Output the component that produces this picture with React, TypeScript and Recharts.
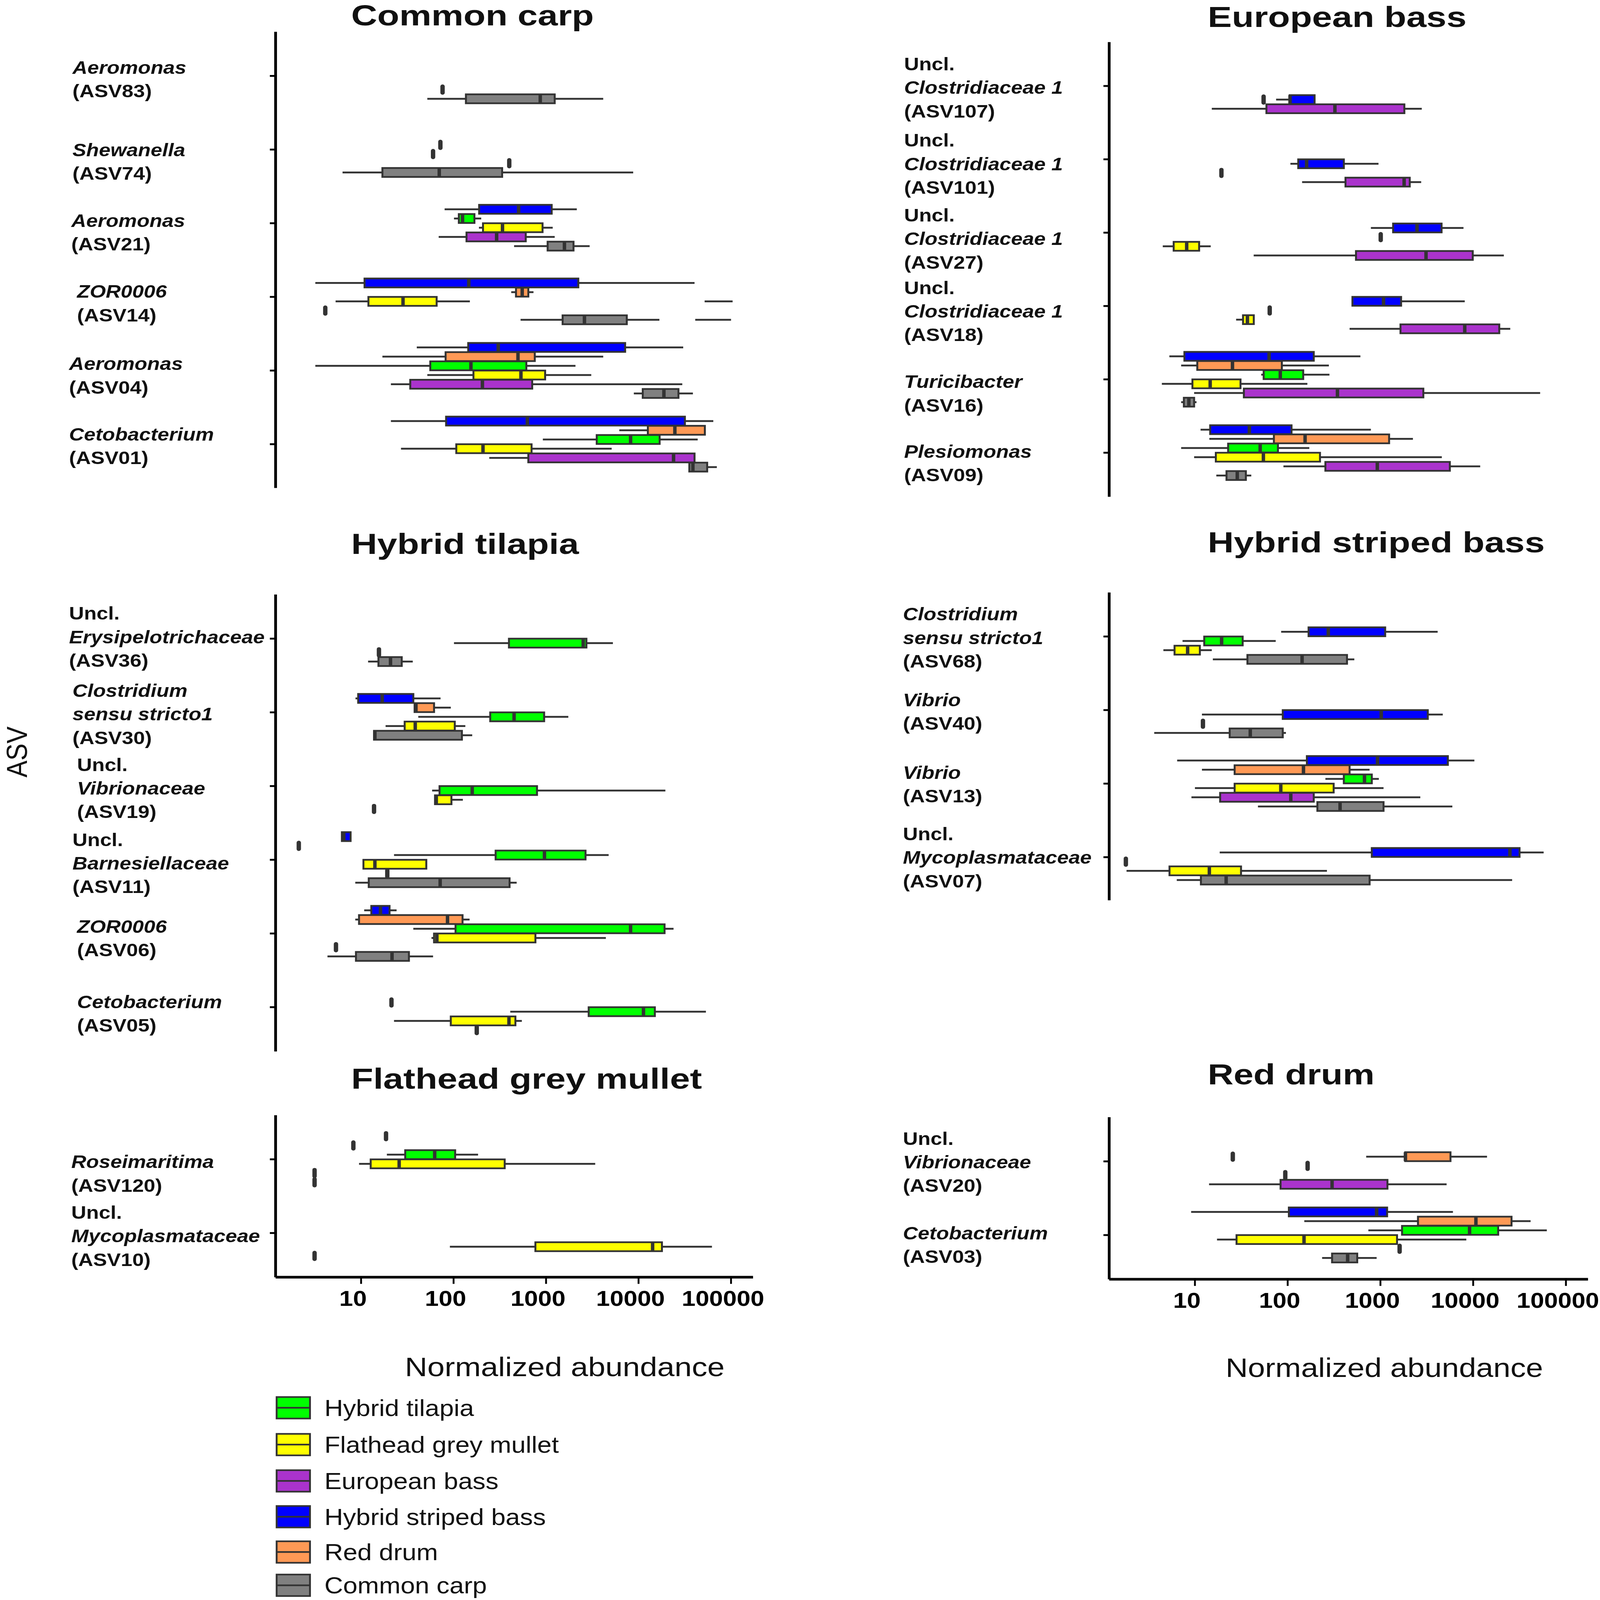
import React from 'react';
import { ComposedChart, Bar, XAxis, YAxis } from 'recharts';

const PAGE_W = 1391;
const PAGE_H = PAGE_W * 5129 / 4562;
const FONT = '"Liberation Sans", Arial, Helvetica, sans-serif';
const INK = '#333333';

const X_MIN = 1.19;
const X_MAX = 173000;
const X_TICKS = [10, 100, 1000, 10000, 100000];

const GROUP_KEYS = ['T', 'M', 'E', 'S', 'R', 'C'];
const GROUP_NAMES = ['Hybrid tilapia', 'Flathead grey mullet', 'European bass', 'Hybrid striped bass', 'Red drum', 'Common carp'];
const GROUP_FILLS = ['#00ff00', '#ffff00', '#aa33cc', '#0000ff', '#ff9955', '#808080'];

// [asv index, dodge slot, group, whisker low, q1, median, q3, whisker high]
type Box = [number, number, string, number, number, number, number, number];
// [asv index, dodge slot, value]
type Outlier = [number, number, number];
// [asv index, dodge slot, low, high]  (whisker without box)
type Extra = [number, number, number, number];

// ---- Common carp
const CARP_ASV = ['ASV83', 'ASV74', 'ASV21', 'ASV14', 'ASV04', 'ASV01'];
const CARP_LABELS = [['Aeromonas', '(ASV83)'], ['Shewanella', '(ASV74)'], ['Aeromonas', '(ASV21)'], ['ZOR0006', '(ASV14)'], ['Aeromonas', '(ASV04)'], ['Cetobacterium', '(ASV01)']];
const CARP_BOXES: Box[] = [
  [0, 5, 'C', 52, 136, 865, 1240, 4150],
  [1, 5, 'C', 6.3, 17, 70, 335, 8750],
  [2, 1, 'S', 80, 189, 505, 1150, 2150],
  [2, 2, 'T', 101, 114, 125, 168, 199],
  [2, 3, 'M', 188, 208, 338, 916, 1180],
  [2, 4, 'E', 69, 138, 292, 603, 1240],
  [2, 5, 'C', 451, 1040, 1580, 1980, 2960],
  [3, 1, 'S', 3.2, 10.9, 146, 2230, 40300],
  [3, 2, 'R', 420, 473, 552, 643, 731],
  [3, 3, 'M', 5.3, 12, 28.4, 65.6, 150],
  [3, 5, 'C', 530, 1510, 2600, 7460, 16800],
  [4, 0, 'S', 40, 144, 304, 7160, 30400],
  [4, 1, 'R', 17, 82, 497, 755, 4150],
  [4, 2, 'T', 3.2, 56, 154, 612, 2080],
  [4, 3, 'M', 52, 164, 535, 977, 3080],
  [4, 4, 'E', 21, 34, 205, 708, 29700],
  [4, 5, 'C', 8890, 11100, 18800, 27000, 38700],
  [5, 0, 'S', 21, 83, 628, 31700, 64300],
  [5, 1, 'R', 6190, 12600, 24700, 52100, 52100],
  [5, 2, 'T', 923, 3530, 8200, 16900, 43600],
  [5, 3, 'M', 27, 107, 208, 697, 5120],
  [5, 4, 'E', 243, 643, 23900, 40300, 40300],
  [5, 5, 'C', 34900, 35400, 38700, 55200, 70200],
];
const CARP_OUT: Outlier[] = [[0, 4, 76], [1, 2, 72], [1, 3, 60], [1, 4, 400], [3, 4, 4.1]];
const CARP_EXTRA: Extra[] = [[3, 3, 51800, 104000], [3, 5, 41000, 100000]];

// ---- European bass
const SEABASS_ASV = ['ASV107', 'ASV101', 'ASV27', 'ASV18', 'ASV16', 'ASV09'];
const SEABASS_LABELS = [
  ['Uncl.', 'Clostridiaceae 1', '(ASV107)'],
  ['Uncl.', 'Clostridiaceae 1', '(ASV101)'],
  ['Uncl.', 'Clostridiaceae 1', '(ASV27)'],
  ['Uncl.', 'Clostridiaceae 1', '(ASV18)'],
  ['Turicibacter', '(ASV16)'],
  ['Plesiomonas', '(ASV09)'],
];
const SEABASS_BOXES: Box[] = [
  [0, 4, 'S', 75, 105, 106, 195, 195],
  [0, 5, 'E', 15.2, 59, 323, 1810, 2790],
  [1, 3, 'S', 107, 130, 160, 403, 953],
  [1, 5, 'E', 143, 420, 1800, 2070, 2750],
  [2, 2, 'S', 789, 1370, 2480, 4560, 7860],
  [2, 4, 'M', 4.5, 5.9, 8.15, 11.1, 14.8],
  [2, 5, 'E', 43, 545, 3100, 9890, 21400],
  [3, 2, 'S', 499, 499, 1080, 1670, 8110],
  [3, 4, 'M', 27.8, 33, 36.8, 43.1, 43.1],
  [3, 5, 'E', 465, 1645, 8110, 19100, 25100],
  [4, 0, 'S', 5.3, 7.7, 63, 191, 608],
  [4, 1, 'R', 7.1, 10.6, 25.4, 86.5, 278],
  [4, 2, 'T', 51.8, 55.1, 83.2, 147, 282],
  [4, 3, 'M', 4.4, 9.4, 14.6, 31, 163],
  [4, 4, 'E', 9.8, 33.7, 344, 2900, 52700],
  [4, 5, 'C', 7.1, 7.6, 8.6, 9.8, 10.4],
  [5, 0, 'S', 11.5, 14.6, 38.6, 110, 789],
  [5, 1, 'R', 14.3, 71, 154, 1240, 2240],
  [5, 2, 'T', 7.1, 22.8, 50.5, 78.5, 171],
  [5, 3, 'M', 9.8, 16.8, 54.7, 223, 4590],
  [5, 4, 'E', 90, 255, 925, 5600, 11900],
  [5, 5, 'C', 17, 21.9, 28.6, 35.4, 40.5],
];
const SEABASS_OUT: Outlier[] = [[0, 4, 55], [1, 4, 19.3], [2, 3, 1007], [3, 3, 64]];

// ---- Hybrid tilapia
const TILAPIA_ASV = ['ASV36', 'ASV30', 'ASV19', 'ASV11', 'ASV06', 'ASV05'];
const TILAPIA_LABELS = [
  ['Uncl.', 'Erysipelotrichaceae', '(ASV36)'],
  ['Clostridium', 'sensu stricto1', '(ASV30)'],
  ['Uncl.', 'Vibrionaceae', '(ASV19)'],
  ['Uncl.', 'Barnesiellaceae', '(ASV11)'],
  ['ZOR0006', '(ASV06)'],
  ['Cetobacterium', '(ASV05)'],
];
const TILAPIA_BOXES: Box[] = [
  [0, 3, 'T', 101, 397, 2520, 2730, 5280],
  [0, 5, 'C', 11.9, 15.4, 20.8, 27.5, 36.2],
  [1, 1, 'S', 8.7, 9.3, 16.9, 36.7, 72.3],
  [1, 2, 'R', 37.9, 37.9, 39.2, 61.5, 93.3],
  [1, 3, 'T', 41.5, 249, 451, 953, 1740],
  [1, 4, 'M', 18.4, 29.6, 38.5, 103, 134],
  [1, 5, 'C', 13.8, 13.8, 14.1, 123, 159],
  [2, 3, 'T', 58.6, 70.5, 159, 798, 19500],
  [2, 4, 'M', 63, 63, 65, 94.8, 126],
  [3, 0, 'S', 6.1, 6.2, 6.5, 7.7, 7.7],
  [3, 2, 'T', 22.7, 285, 961, 2670, 4750],
  [3, 3, 'M', 10.6, 10.6, 14.1, 50.7, 50.7],
  [3, 5, 'C', 8.65, 12.1, 71.6, 403, 481],
  [4, 0, 'S', 10.8, 12.9, 16.2, 20.3, 24.2],
  [4, 1, 'R', 8.65, 9.5, 86, 125, 149],
  [4, 2, 'T', 36.7, 105, 8200, 19100, 23900],
  [4, 3, 'M', 57.7, 61.5, 66, 767, 4430],
  [4, 5, 'C', 4.33, 8.8, 21.6, 32.9, 60],
  [5, 3, 'T', 410, 2890, 11300, 15000, 53500],
  [5, 4, 'M', 22.7, 93.3, 397, 466, 547],
];
const TILAPIA_OUT: Outlier[] = [[0, 4, 15.6], [2, 5, 13.8], [3, 1, 2.12], [3, 4, 19.2], [4, 4, 5.35], [5, 2, 21.3], [5, 5, 178]];

// ---- Hybrid striped bass
const STRIPED_ASV = ['ASV68', 'ASV40', 'ASV13', 'ASV07'];
const STRIPED_LABELS = [
  ['Clostridium', 'sensu stricto1', '(ASV68)'],
  ['Vibrio', '(ASV40)'],
  ['Vibrio', '(ASV13)'],
  ['Uncl.', 'Mycoplasmataceae', '(ASV07)'],
];
const STRIPED_BOXES: Box[] = [
  [0, 2, 'S', 85, 168, 274, 1125, 4140],
  [0, 3, 'T', 7.35, 12.6, 19.4, 32.7, 74.3],
  [0, 4, 'M', 4.57, 6.03, 8.34, 11.3, 15.2],
  [0, 5, 'C', 15.6, 36.8, 143, 436, 523],
  [1, 3, 'S', 11.9, 88.5, 1020, 3240, 4700],
  [1, 5, 'C', 3.64, 23.7, 39.5, 88.5, 95.7],
  [2, 0, 'S', 6.43, 161, 931, 5330, 10300],
  [2, 1, 'R', 11.9, 26.8, 148, 465, 764],
  [2, 2, 'T', 255, 403, 673, 807, 961],
  [2, 3, 'M', 10, 26.8, 84.3, 313, 1080],
  [2, 4, 'E', 9.17, 18.7, 108, 191, 2690],
  [2, 5, 'C', 47.8, 209, 367, 1080, 5960],
  [3, 2, 'S', 18.5, 807, 24900, 31600, 57500],
  [3, 4, 'M', 1.83, 5.32, 14.3, 31.4, 265],
  [3, 5, 'C', 6.37, 11.6, 21.7, 764, 26300],
];
const STRIPED_OUT: Outlier[] = [[1, 4, 12.2], [3, 3, 1.8]];

// ---- Flathead grey mullet
const MULLET_ASV = ['ASV120', 'ASV10'];
const MULLET_LABELS = [['Roseimaritima', '(ASV120)'], ['Uncl.', 'Mycoplasmataceae', '(ASV10)']];
const MULLET_BOXES: Box[] = [
  [0, 2, 'T', 19, 30, 62.5, 104, 184],
  [0, 3, 'M', 9.5, 12.7, 25.8, 357, 3400],
  [1, 4, 'M', 91.2, 767, 14200, 17900, 62200],
];
const MULLET_OUT: Outlier[] = [[0, 0, 18.6], [0, 1, 8.25], [0, 4, 3.14], [0, 5, 3.14], [1, 5, 3.14]];

// ---- Red drum
const DRUM_ASV = ['ASV20', 'ASV03'];
const DRUM_LABELS = [['Uncl.', 'Vibrionaceae', '(ASV20)'], ['Cetobacterium', '(ASV03)']];
const DRUM_BOXES: Box[] = [
  [0, 2, 'R', 702, 1850, 1860, 5690, 14100],
  [0, 5, 'E', 14.2, 83.8, 301, 1190, 5170],
  [1, 0, 'S', 9.1, 103, 910, 1180, 6050],
  [1, 1, 'R', 151, 2540, 10700, 25900, 41600],
  [1, 2, 'T', 741, 1710, 9140, 18600, 62200],
  [1, 3, 'M', 17.3, 28.1, 150, 1510, 8430],
  [1, 5, 'C', 235, 301, 443, 562, 910],
];
const DRUM_OUT: Outlier[] = [[0, 2, 25.6], [0, 3, 164], [0, 4, 94.2], [1, 4, 1610]];

// ---- layout (in 1391-wide design units)
const RIGHT_ROOM = 40;
const COLS = [
  { left: 0, axisW: 239.6, width: 654.7, titleX: 305.3 },
  { left: 700, axisW: 264.3, width: 680.6, titleX: 1050 },
];

const PANELS = [
  { title: 'Common carp', asv: CARP_ASV, labels: CARP_LABELS, boxes: CARP_BOXES, outliers: CARP_OUT, extras: CARP_EXTRA,
    col: 0, top: 30.8, unit: 72, showX: false, titleY: 25, titleW: 211,
    shifts: [2.9, 11.7, 8.6, 6, 4.6, 1.5], labelX: [63, 63, 62, 67, 60, 60] },
  { title: 'European bass', asv: SEABASS_ASV, labels: SEABASS_LABELS, boxes: SEABASS_BOXES, outliers: SEABASS_OUT, extras: [],
    col: 1, top: 41.2, unit: 71.7, showX: false, titleY: 26.5, titleW: 225,
    shifts: [1.4, 4.2, 5.7, 4.8, 13.6, 10.1], labelX: [786, 786, 786, 786, 786, 786] },
  { title: 'Hybrid tilapia', asv: TILAPIA_ASV, labels: TILAPIA_LABELS, boxes: TILAPIA_BOXES, outliers: TILAPIA_OUT, extras: [],
    col: 0, top: 581.2, unit: 72.05, showX: false, titleY: 541.5, titleW: 198,
    shifts: [-1.9, 1.5, 1.8, 3.2, 4.3, 5.9], labelX: [60, 63, 67, 63, 67, 67] },
  { title: 'Hybrid striped bass', asv: STRIPED_ASV, labels: STRIPED_LABELS, boxes: STRIPED_BOXES, outliers: STRIPED_OUT, extras: [],
    col: 1, top: 578.5, unit: 71.9, showX: false, titleY: 540, titleW: 293,
    shifts: [0.9, 1.4, 0.5, 0.1], labelX: [785, 785, 785, 785] },
  { title: 'Flathead grey mullet', asv: MULLET_ASV, labels: MULLET_LABELS, boxes: MULLET_BOXES, outliers: MULLET_OUT, extras: [],
    col: 0, top: 1090.3, unit: 72, showX: true, titleY: 1064, titleW: 305,
    shifts: [13.7, 2.7], labelX: [62, 62] },
  { title: 'Red drum', asv: DRUM_ASV, labels: DRUM_LABELS, boxes: DRUM_BOXES, outliers: DRUM_OUT, extras: [],
    col: 1, top: 1091.5, unit: 72, showX: true, titleY: 1060, titleW: 145,
    shifts: [0.4, 9.2], labelX: [785, 785] },
];

type Panel = (typeof PANELS)[number];

function buildRows(p: Panel) {
  const rows: any[] = [];
  p.asv.forEach((a) => {
    for (let r = 0; r < 8; r++) rows.push({ row: `${a}-${r}`, asv: a });
  });
  const at = (k: number, slot: number) => rows[k * 8 + 1 + slot];
  p.boxes.forEach(([k, slot, g, lo, q1, med, q3, hi]) => {
    const r = at(k, slot);
    r.whisker = [lo, hi];
    r.box = [q1, q3];
    r.med = [X_MIN, med];
    r.color = GROUP_FILLS[GROUP_KEYS.indexOf(g)];
  });
  p.outliers.forEach(([k, slot, v]) => {
    at(k, slot).out = [X_MIN, v];
  });
  (p.extras as Extra[]).forEach(([k, slot, lo, hi]) => {
    at(k, slot).extra = [lo, hi];
  });
  return rows;
}

const ok = (...v: number[]) => v.every((n) => typeof n === 'number' && isFinite(n));

const lineShape = (key: string) => (props: any) => {
  const { x, y, width, height, payload } = props;
  if (!payload || !payload[key] || !ok(x, y, width, height)) return <g />;
  return <rect x={x} y={y + height / 2 - 0.9} width={Math.max(width, 0)} height={1.8} fill={INK} />;
};

const BoxShape = (props: any) => {
  const { x, y, width, height, payload } = props;
  if (!payload || !payload.box || !ok(x, y, width, height)) return <g />;
  return <rect x={x} y={y} width={Math.max(width, 0.5)} height={height} fill={payload.color} stroke={INK} strokeWidth={1.7} />;
};

const MedianShape = (props: any) => {
  const { x, y, width, height, payload } = props;
  if (!payload || !payload.med || !ok(x, y, width, height)) return <g />;
  return <rect x={x + width - 1.5} y={y} width={3} height={height} fill={INK} />;
};

const OutlierShape = (props: any) => {
  const { x, y, width, height, payload } = props;
  if (!payload || !payload.out || !ok(x, y, width, height)) return <g />;
  return <rect x={x + width - 1.9} y={y + height / 2 - 5} width={3.8} height={10} rx={1.9} fill={INK} />;
};

const isItalic = (t: string) => !(t.startsWith('(') || t === 'Uncl.');

function XTick(props: any) {
  const { x, y, payload } = props;
  return (
    <text x={x - 7} y={y} dy={21.5} textAnchor="middle" fontSize={21.5} fontWeight={700} fill="#000" fontFamily={FONT}>
      {payload.value}
    </text>
  );
}

function PanelChart({ p }: { p: Panel }) {
  const col = COLS[p.col];
  const rows = buildRows(p);
  const n = p.asv.length;
  const plotH = p.unit * (n + 0.2);
  const pad = p.unit * 0.1;
  const barSize = p.unit / 8 - 0.25;
  const xAxisH = p.showX ? 48 : 0;

  const asvTick = (props: any) => {
    const { y, payload } = props;
    const k = p.asv.indexOf(payload.value);
    if (k < 0 || !ok(y)) return <g />;
    const lines = p.labels[k];
    const c = y + p.shifts[k];
    return (
      <g>
        {lines.map((t, i) => (
          <text
            key={i}
            x={p.labelX[k] - col.left}
            y={c + (i - (lines.length - 1) / 2) * 23 + 6.4}
            fontSize={18}
            fontWeight={700}
            fontStyle={isItalic(t) ? 'italic' : 'normal'}
            fill="#111"
            fontFamily={FONT}
          >
            {t}
          </text>
        ))}
      </g>
    );
  };

  const rowAxis = (id: string) => (
    <YAxis key={id} yAxisId={id} type="category" dataKey="row" allowDuplicatedCategory={false} hide width={0} padding={{ top: pad, bottom: pad }} />
  );

  return (
    <div style={{ position: 'absolute', left: col.left, top: p.top }}>
      <ComposedChart
        width={col.width + RIGHT_ROOM}
        height={plotH + xAxisH}
        data={rows}
        layout="vertical"
        margin={{ top: 0, right: RIGHT_ROOM, bottom: 0, left: 0 }}
      >
        <XAxis
          type="number"
          scale="log"
          domain={[X_MIN, X_MAX]}
          allowDataOverflow
          ticks={X_TICKS}
          interval={0}
          hide={!p.showX}
          height={xAxisH || 30}
          axisLine={{ stroke: '#000', strokeWidth: 2.6 }}
          tickLine={{ stroke: '#000', strokeWidth: 1.6 }}
          tickSize={6.5}
          tickMargin={0}
          tick={XTick}
        />
        <YAxis
          yAxisId="lab"
          type="category"
          dataKey="asv"
          allowDuplicatedCategory={false}
          width={col.axisW}
          interval={0}
          padding={{ top: pad, bottom: pad }}
          axisLine={{ stroke: '#000', strokeWidth: 2.4 }}
          tickLine={{ stroke: '#000', strokeWidth: 1.8 }}
          tickSize={5}
          tick={asvTick}
        />
        {['w', 'e', 'b', 'm', 'o'].map(rowAxis)}
        <Bar yAxisId="w" dataKey="whisker" barSize={barSize} shape={lineShape('whisker')} isAnimationActive={false} />
        <Bar yAxisId="e" dataKey="extra" barSize={barSize} shape={lineShape('extra')} isAnimationActive={false} />
        <Bar yAxisId="b" dataKey="box" barSize={barSize} shape={BoxShape} isAnimationActive={false} />
        <Bar yAxisId="m" dataKey="med" barSize={barSize} shape={MedianShape} isAnimationActive={false} />
        <Bar yAxisId="o" dataKey="out" barSize={barSize} shape={OutlierShape} isAnimationActive={false} />
      </ComposedChart>
    </div>
  );
}

const LEGEND_Y = [1376, 1412, 1447.5, 1482.5, 1517, 1549.5];

export default function App() {
  const vw = typeof window !== 'undefined' ? window.innerWidth : 4562;
  const vh = typeof window !== 'undefined' ? window.innerHeight : 5129;
  const sx = vw / PAGE_W;
  const sy = vh / PAGE_H;
  return (
    <div style={{ position: 'absolute', left: 0, top: 0, width: vw, height: vh, overflow: 'hidden', background: '#fff' }}>
      <style>{'html,body{margin:0;overflow:hidden;}'}</style>
      <div
        style={{
          position: 'absolute',
          left: 0,
          top: 0,
          width: PAGE_W,
          height: PAGE_H,
          transform: `scale(${sx}, ${sy})`,
          transformOrigin: '0 0',
          fontFamily: FONT,
        }}
      >
        {PANELS.map((p) => (
          <PanelChart key={p.title} p={p} />
        ))}
        <svg width={PAGE_W} height={PAGE_H} style={{ position: 'absolute', left: 0, top: 0, pointerEvents: 'none' }} fontFamily={FONT}>
          {PANELS.map((p) => (
            <text
              key={p.title}
              x={COLS[p.col].titleX}
              y={p.titleY}
              fontSize={28}
              fontWeight={700}
              fill="#111"
              textLength={p.titleW}
              lengthAdjust="spacingAndGlyphs"
            >
              {p.title}
            </text>
          ))}
          <text x={23.5} y={735} fontSize={25} fill="#111" textAnchor="middle" transform="rotate(-90 23.5 735)">
            ASV
          </text>
          <text x={491} y={1345} fontSize={26} fill="#111" textAnchor="middle" textLength={278} lengthAdjust="spacingAndGlyphs">
            Normalized abundance
          </text>
          <text x={1203.5} y={1346} fontSize={26} fill="#111" textAnchor="middle" textLength={276} lengthAdjust="spacingAndGlyphs">
            Normalized abundance
          </text>
          {GROUP_NAMES.map((name, i) => (
            <g key={name}>
              <rect x={240.5} y={LEGEND_Y[i] - 10.5} width={29} height={21} fill={GROUP_FILLS[i]} stroke={INK} strokeWidth={1.6} />
              <line x1={240.5} x2={269.5} y1={LEGEND_Y[i]} y2={LEGEND_Y[i]} stroke={INK} strokeWidth={1.6} />
              <text x={282} y={LEGEND_Y[i] + 8} fontSize={22.5} fill="#111">
                {name}
              </text>
            </g>
          ))}
        </svg>
      </div>
    </div>
  );
}
